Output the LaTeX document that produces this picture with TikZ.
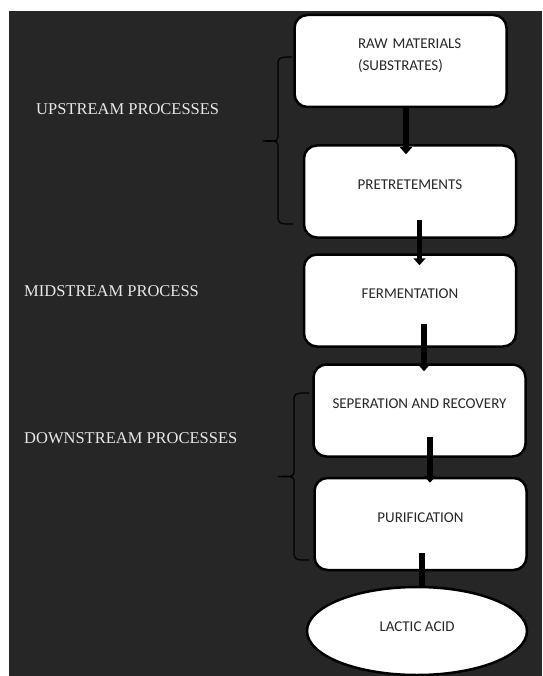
\documentclass[tikz,border=0pt]{standalone}
\usepackage{fontspec}
\setmainfont{Liberation Serif}
\newfontfamily\boxfont{Carlito}
\usetikzlibrary{arrows.meta,shapes.geometric}
\definecolor{panelgrey}{RGB}{38,38,38}
\definecolor{labelgrey}{RGB}{232,232,232}
\definecolor{boxtext}{RGB}{40,40,40}

\begin{document}
\begin{tikzpicture}[
    x=1pt, y=-1pt,
    box/.style={rectangle,rounded corners=13pt,draw=black,fill=white,line width=2.5pt,
      minimum width=212pt,minimum height=92pt,text=boxtext,
      font=\boxfont\fontsize{15}{22}\selectfont,text height=10pt,text depth=14pt},
    product/.style={ellipse,draw=black,fill=white,line width=2.5pt,
      minimum width=220pt,minimum height=88pt,text=boxtext,
      font=\boxfont\fontsize{15}{22}\selectfont,text height=10pt,text depth=8.3pt},
    stage/.style={anchor=west,inner sep=0pt,text=labelgrey,font=\fontsize{16.5}{20}\selectfont},
    flow/.style={line width=5.5pt,-{Triangle[width=12pt,length=7pt]}},
    bracket/.style={line width=1.2pt,draw=black}
  ]
  \useasboundingbox (0,0) rectangle (542,676);
  \fill[white] (0,0) rectangle (542,676);
  \fill[panelgrey] (9,11) rectangle (542,676);

  % process steps
  \node[box,align=left,text width=85pt,text depth=34.3pt] (raw) at (400.5,61)
    {\mbox{RAW MATERIALS}\\\mbox{(SUBSTRATES)}};
  \node[box] (pre) at (410,191.5) {PRETRETEMENTS};
  \node[box] (ferm) at (410,300.5) {FERMENTATION};
  \node[box] (sep) at (419.5,410.5) {SEPERATION AND RECOVERY};
  \node[box] (pur) at (420.5,524) {PURIFICATION};
  \node[product] (acid) at (417,631) {LACTIC ACID};

  % stage names
  \node[stage] (up) at (36,109) {UPSTREAM PROCESSES};
  \node[stage] (mid) at (24,291) {MIDSTREAM PROCESS};
  \node[stage] (down) at (24,438) {DOWNSTREAM PROCESSES};

  % braces
  \draw[bracket] (292,57) to[out=180,in=90] (278,62) -- (278,137)
    to[out=-90,in=0] (263,141) to[out=0,in=90] (278,145) -- (278,219)
    to[out=-90,in=180] (293,224);
  \draw[bracket] (309,393) to[out=180,in=90] (294,398) -- (294,472)
    to[out=-90,in=0] (278,476.5) to[out=0,in=90] (294,481) -- (294,555)
    to[out=-90,in=180] (309,560);

  \draw[flow] ([xshift=5.5pt]raw.south) -- ([xshift=-4pt,yshift=-10pt]pre.north);
  \draw[flow] ([xshift=9.5pt,yshift=19pt]pre.south) -- ([xshift=9.5pt,yshift=-12pt]ferm.north);
  \draw[flow] ([xshift=14pt,yshift=24pt]ferm.south) -- ([xshift=4.5pt,yshift=-8pt]sep.north);
  \draw[flow] ([xshift=10.5pt,yshift=21pt]sep.south) -- ([xshift=9.5pt,yshift=-6pt]pur.north);
  \draw[line width=5.5pt] ([xshift=1.5pt,yshift=18pt]pur.south) -- ([xshift=5pt]acid.north);
\end{tikzpicture}
\end{document}
